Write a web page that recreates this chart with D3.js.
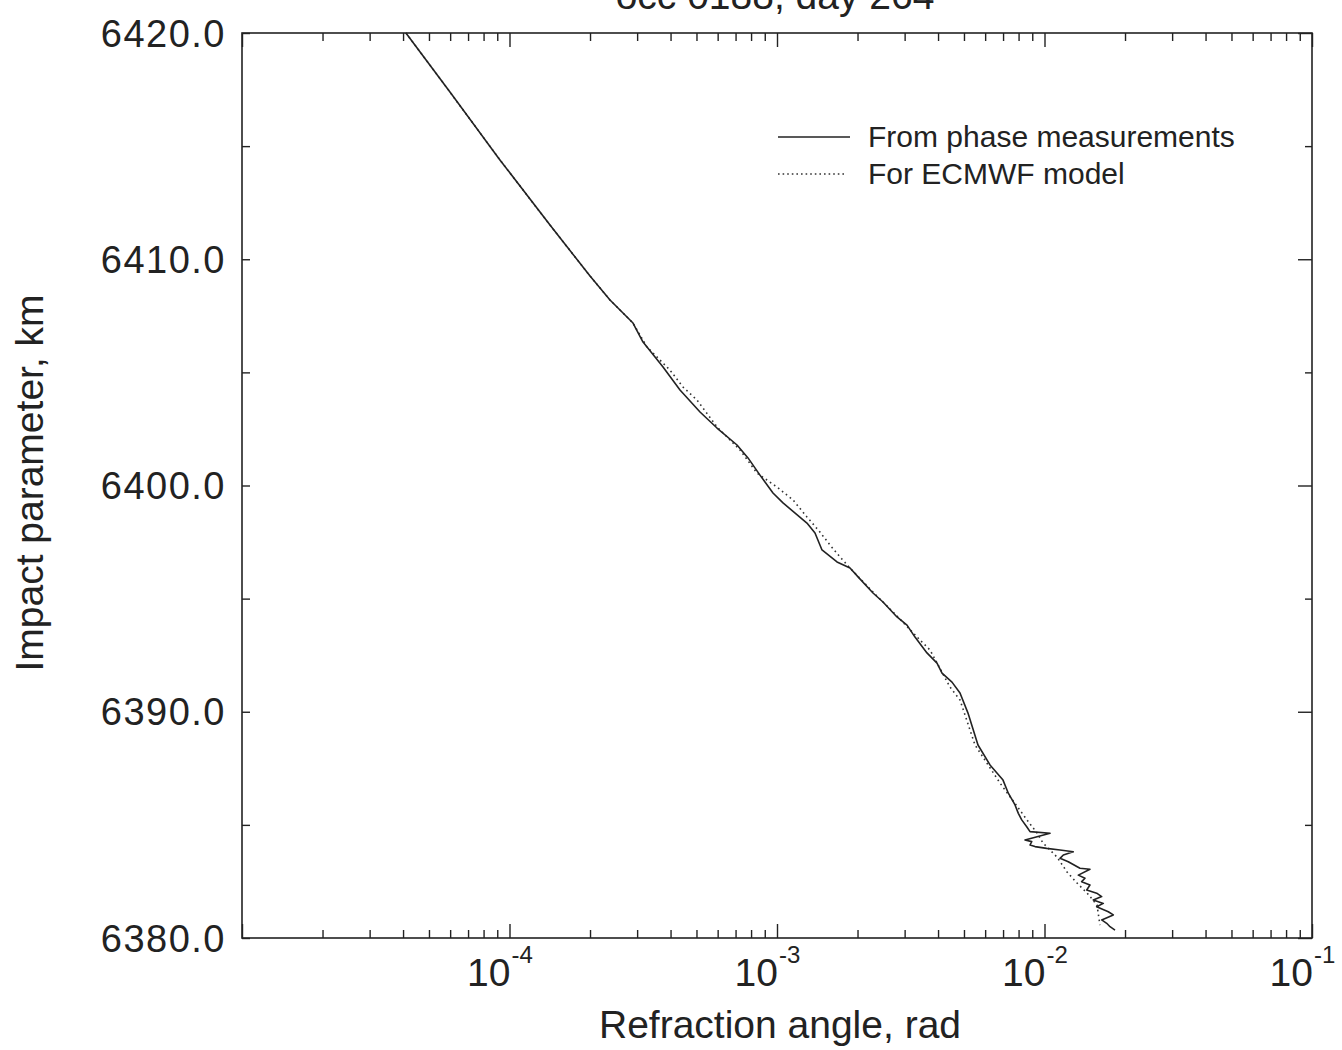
<!DOCTYPE html>
<html>
<head>
<meta charset="utf-8">
<script src="https://cdn.jsdelivr.net/npm/d3@7"></script>
<style>
  html, body { margin: 0; padding: 0; background: #fff; }
  svg { display: block; }
  text { font-family: "Liberation Sans", Arial, Helvetica, sans-serif; fill: #222; }
</style>
</head>
<body>
<svg id="chart" width="1342" height="1050"></svg>
<script>
// ---------------- data ----------------
const titleText = "occ 0188, day 264";
const xLabel = "Refraction angle, rad";
const yLabel = "Impact parameter, km";
const seriesNames = ["From phase measurements", "For ECMWF model"];

// x major ticks (decades) and their exponent labels
const xMajorTicks = [1e-5, 1e-4, 1e-3, 1e-2, 1e-1];
const xMajorLabels = ["", "-4", "-3", "-2", "-1"];
// y ticks
const yMajorTicks = [6380, 6390, 6400, 6410, 6420];
const yMinorTicks = [6385, 6395, 6405, 6415];

// Measured (from phase): refraction angle (rad)
const measAngle = [
  4.10e-5, 5.99e-5, 9.21e-5, 1.417e-4, 2.00e-4, 2.375e-4, 2.895e-4, 3.156e-4,
  3.749e-4, 4.339e-4, 5.155e-4, 5.966e-4, 7.088e-4, 7.791e-4, 8.637e-4, 9.66e-4,
  1.053e-3, 1.294e-3, 1.387e-3, 1.473e-3, 1.676e-3, 1.875e-3, 2.009e-3, 2.285e-3,
  2.490e-3, 2.809e-3, 3.062e-3, 3.280e-3, 3.636e-3, 3.964e-3, 4.139e-3, 4.510e-3,
  4.832e-3, 5.176e-3, 5.641e-3, 6.256e-3, 6.997e-3,
  7.324e-3, 7.759e-3, 7.983e-3, 8.220e-3, 8.581e-3, 8.828e-3, 1.049e-2, 8.455e-3,
  8.959e-3, 8.828e-3, 9.216e-3, 1.019e-2, 1.143e-2, 1.281e-2, 1.176e-2, 1.143e-2,
  1.227e-2, 1.357e-2, 1.479e-2, 1.338e-2, 1.417e-2, 1.377e-2, 1.479e-2, 1.438e-2,
  1.567e-2, 1.636e-2, 1.522e-2, 1.659e-2, 1.567e-2, 1.732e-2, 1.808e-2, 1.636e-2,
  1.708e-2, 1.758e-2, 1.835e-2
];
// Measured: impact parameter (km)
const measImpact = [
  6420.00, 6417.39, 6414.39, 6411.51, 6409.26, 6408.20, 6407.18, 6406.34,
  6405.24, 6404.22, 6403.25, 6402.54, 6401.79, 6401.22, 6400.46, 6399.67,
  6399.23, 6398.34, 6397.90, 6397.15, 6396.62, 6396.35, 6395.96, 6395.25,
  6394.85, 6394.19, 6393.83, 6393.30, 6392.60, 6392.15, 6391.71, 6391.31,
  6390.83, 6389.94, 6388.53, 6387.65, 6386.98,
  6386.40, 6385.88, 6385.51, 6385.22, 6384.92, 6384.70, 6384.63, 6384.33,
  6384.26, 6384.11, 6384.04, 6383.96, 6383.89, 6383.81, 6383.67, 6383.52,
  6383.37, 6383.08, 6383.04, 6382.78, 6382.64, 6382.49, 6382.34, 6382.12,
  6381.98, 6381.83, 6381.68, 6381.53, 6381.38, 6381.16, 6381.02, 6380.80,
  6380.65, 6380.50, 6380.35
];

// ECMWF model: refraction angle (rad)
const modelAngle = [
  4.10e-5, 5.99e-5, 9.21e-5, 1.417e-4, 2.00e-4, 2.375e-4, 2.895e-4, 3.266e-4,
  3.981e-4, 4.453e-4, 5.023e-4, 5.966e-4, 7.273e-4, 8.417e-4, 1.000e-3, 1.148e-3,
  1.294e-3, 1.448e-3, 1.578e-3, 1.720e-3, 1.875e-3, 2.285e-3, 2.809e-3, 3.424e-3,
  3.733e-3, 4.433e-3, 4.832e-3, 5.498e-3, 6.818e-3, 8.602e-3, 9.376e-3, 9.87e-3,
  1.113e-2, 1.214e-2, 1.323e-2, 1.442e-2, 1.571e-2, 1.612e-2
];
// ECMWF model: impact parameter (km)
const modelImpact = [
  6420.00, 6417.39, 6414.39, 6411.51, 6409.26, 6408.20, 6407.18, 6406.12,
  6405.10, 6404.35, 6403.78, 6402.59, 6401.57, 6400.55, 6399.93, 6399.36,
  6398.61, 6397.94, 6397.37, 6396.84, 6396.35, 6395.29, 6394.23, 6393.17,
  6392.73, 6391.09, 6390.52, 6388.53, 6386.85, 6385.22, 6384.64, 6384.20,
  6383.58, 6382.92, 6382.43, 6381.99, 6381.46, 6380.57
];

// ---------------- layout ----------------
(function () {
const svg = d3.select("#chart");
const pL = 242, pR = 1312, pT = 33, pB = 938;
const ink = "#222";

const x = d3.scaleLog().domain([1e-5, 1e-1]).range([pL, pR]);
const y = d3.scaleLinear().domain([6380, 6420]).range([pB, pT]);

// title (partially clipped at top, as in the reference)
svg.append("text")
  .attr("x", 775).attr("y", 9)
  .attr("text-anchor", "middle")
  .attr("font-size", 39)
  .text(titleText);

function styleAxis(g) {
  g.selectAll("path").remove();
  g.selectAll("line").attr("stroke", ink).attr("stroke-width", 1.4);
  g.selectAll("text").remove();
}
const allX = x.ticks();
const minorX = allX.filter(v => !xMajorTicks.some(m => Math.abs(m - v) / m < 1e-9));

// bottom
svg.append("g").attr("transform", `translate(0,${pB})`)
  .call(d3.axisBottom(x).tickValues(minorX).tickSize(-8)).call(styleAxis);
svg.append("g").attr("transform", `translate(0,${pB})`)
  .call(d3.axisBottom(x).tickValues(xMajorTicks).tickSize(-14)).call(styleAxis);
// top
svg.append("g").attr("transform", `translate(0,${pT})`)
  .call(d3.axisTop(x).tickValues(minorX).tickSize(-8)).call(styleAxis);
svg.append("g").attr("transform", `translate(0,${pT})`)
  .call(d3.axisTop(x).tickValues(xMajorTicks).tickSize(-14)).call(styleAxis);
// left
svg.append("g").attr("transform", `translate(${pL},0)`)
  .call(d3.axisLeft(y).tickValues(yMajorTicks.concat(yMinorTicks)).tickSize(-8)).call(styleAxis);
// right
svg.append("g").attr("transform", `translate(${pR},0)`)
  .call(d3.axisRight(y).tickValues(yMinorTicks).tickSize(-7)).call(styleAxis);
svg.append("g").attr("transform", `translate(${pR},0)`)
  .call(d3.axisRight(y).tickValues(yMajorTicks).tickSize(-14)).call(styleAxis);

// frame
svg.append("rect")
  .attr("x", pL).attr("y", pT)
  .attr("width", pR - pL).attr("height", pB - pT)
  .attr("fill", "none").attr("stroke", ink).attr("stroke-width", 1.6);

// y tick labels
svg.append("g").selectAll("text").data(yMajorTicks).join("text")
  .attr("x", 226).attr("y", d => y(d))
  .attr("dy", "0.36em")
  .attr("text-anchor", "end")
  .attr("font-size", 38)
  .attr("letter-spacing", 1.5)
  .text(d => d3.format(".1f")(d));

// x tick labels: 10 with superscript exponent
const xl = svg.append("g").selectAll("g").data(xMajorTicks.filter((d, i) => xMajorLabels[i] !== "")).join("g");
xl.append("text")
  .attr("x", d => x(d) + 1).attr("y", 986)
  .attr("text-anchor", "end")
  .attr("font-size", 39)
  .text("10");
xl.append("text")
  .attr("x", d => x(d) + 2).attr("y", 963)
  .attr("text-anchor", "start")
  .attr("font-size", 24)
  .text(d => xMajorLabels[xMajorTicks.indexOf(d)]);

// axis titles
svg.append("text")
  .attr("x", 780).attr("y", 1038)
  .attr("text-anchor", "middle")
  .attr("font-size", 39)
  .text(xLabel);
svg.append("text")
  .attr("transform", `translate(43,483) rotate(-90)`)
  .attr("text-anchor", "middle")
  .attr("font-size", 39)
  .text(yLabel);

// lines
const clipId = "plotclip";
svg.append("clipPath").attr("id", clipId).append("rect")
  .attr("x", pL).attr("y", pT - 1).attr("width", pR - pL).attr("height", pB - pT + 2);

const line = d3.line().x(d => x(d[0])).y(d => y(d[1]));
const meas = measAngle.map((a, i) => [a, measImpact[i]]);
const model = modelAngle.map((a, i) => [a, modelImpact[i]]);

svg.append("path").datum(model)
  .attr("clip-path", `url(#${clipId})`)
  .attr("d", line)
  .attr("fill", "none").attr("stroke", "#333")
  .attr("stroke-width", 1.6).attr("stroke-dasharray", "1.6,3.4");
svg.append("path").datum(meas)
  .attr("clip-path", `url(#${clipId})`)
  .attr("d", line)
  .attr("fill", "none").attr("stroke", ink)
  .attr("stroke-width", 1.6).attr("stroke-linejoin", "round");

// legend
const lg = svg.append("g");
lg.append("line").attr("x1", 778).attr("x2", 850).attr("y1", 137).attr("y2", 137)
  .attr("stroke", ink).attr("stroke-width", 1.4);
lg.append("line").attr("x1", 778).attr("x2", 846).attr("y1", 174).attr("y2", 174)
  .attr("stroke", "#333").attr("stroke-width", 1.4).attr("stroke-dasharray", "1.6,3");
lg.append("text").attr("x", 868).attr("y", 147).attr("font-size", 30).text(seriesNames[0]);
lg.append("text").attr("x", 868).attr("y", 184).attr("font-size", 30).text(seriesNames[1]);
})();
</script>
</body>
</html>
